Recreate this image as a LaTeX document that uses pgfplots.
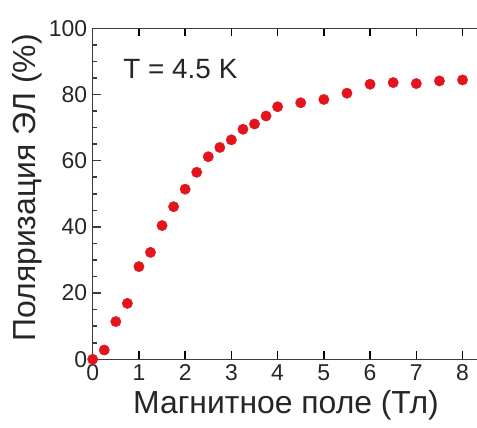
\documentclass[border=0pt]{standalone}
\usepackage{fontspec}
\setmainfont{Liberation Sans}
\usepackage{pgfplots}
\pgfplotsset{compat=1.18}
\definecolor{dotred}{RGB}{228,20,28}
\definecolor{axgray}{RGB}{60,60,60}
\begin{document}
\begin{tikzpicture}
\begin{axis}[name=ax, scale only axis, width=385.1bp, height=331bp,
  xmin=0, xmax=8.33, ymin=0, ymax=100,
  axis line style={line width=1.5bp, axgray},
  xtick style={line width=1.6bp, axgray, black},
  ytick style={line width=1.5bp, axgray},
  xtick={0,...,8}, ytick={0,20,...,100}, minor y tick num=3,
  xtick pos=both, ytick pos=left, xticklabel pos=lower, yticklabel pos=left,
  tick align=inside, major tick length=8bp, minor tick length=4bp,
  /pgf/number format/assume math mode=true,
  tick label style={font=\fontsize{23}{23}\selectfont, text=black!85},
  xticklabel style={yshift=-2bp},
  yticklabel style={xshift=-2bp},
  every axis x label/.style={at={(axis description cs:0.502,-0.138)}, anchor=center},
  every axis y label/.style={at={(axis description cs:-0.171,0.518)}, anchor=center, rotate=90},
  label style={font=\fontsize{32}{32}\selectfont, text=black!85},
  xlabel={Магнитное поле (Тл)},
  ylabel={Поляризация ЭЛ (\%)},
  clip=false,
]
\addplot[only marks, mark=*, mark size=5.2bp, color=dotred] coordinates {
(0,0) (0.25,2.8) (0.5,11.4) (0.75,16.9) (1,28.0) (1.25,32.3) (1.5,40.4)
(1.75,46.1) (2,51.4) (2.25,56.5) (2.5,61.2) (2.75,64.0) (3,66.3)
(3.25,69.5) (3.5,71.1) (3.75,73.5) (4,76.3) (4.5,77.5) (5,78.5)
(5.5,80.4) (6,83.1) (6.5,83.6) (7,83.3) (7.5,84.1) (8,84.4)
};
\node[anchor=west, font=\fontsize{28}{28}\selectfont, text=black!85, inner sep=0pt] at (axis cs:0.66,87.7) {T = 4.5 K};
\end{axis}
\pgfresetboundingbox
\path[use as bounding box] ([shift={(-92.7bp,-68.7bp)}]ax.south west) rectangle ([shift={(-0.8bp,28.3bp)}]ax.north east);
\end{tikzpicture}
\end{document}
